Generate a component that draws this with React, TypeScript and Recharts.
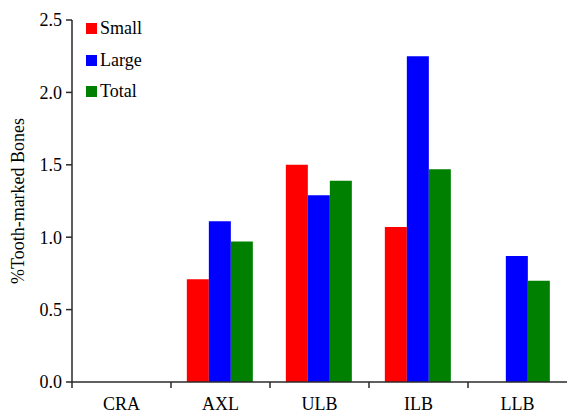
import { BarChart, Bar, XAxis, YAxis, Legend } from 'recharts'

const CATEGORIES = ['CRA', 'AXL', 'ULB', 'ILB', 'LLB']
const SMALL = [0, 0.71, 1.5, 1.07, 0]
const LARGE = [0, 1.11, 1.29, 2.25, 0.87]
const TOTAL = [0, 0.97, 1.39, 1.47, 0.7]
const Y_TICKS = [0, 0.5, 1, 1.5, 2, 2.5]

const RED = '#ff0000'
const BLUE = '#0000ff'
const GREEN = '#008000'
const AXIS = '#2a2a2a'
const FONT = 'Liberation Serif'
const FONT_SIZE = 18

const WIDTH = 567
const HEIGHT = 413
const Y_AXIS_W = 72
const X_AXIS_H = 31
const MARGIN = { top: 20, right: 0, left: 0, bottom: 0 }
const BAND = (WIDTH - Y_AXIS_W - MARGIN.right) / CATEGORIES.length

const data = CATEGORIES.map((name, i) => ({
  name,
  small: SMALL[i],
  large: LARGE[i],
  total: TOTAL[i],
}))

const SERIES = [
  { key: 'small', label: 'Small', color: RED },
  { key: 'large', label: 'Large', color: BLUE },
  { key: 'total', label: 'Total', color: GREEN },
]

// category label at the band centre, tick mark on the left edge of each band
function CategoryTick({ x, y, payload }: { x?: number; y?: number; payload?: { value: string } }) {
  const cx = x ?? 0
  const cy = y ?? 0
  const edge = cx - BAND / 2
  return (
    <g>
      <line x1={edge} y1={cy} x2={edge} y2={cy + 6} stroke={AXIS} strokeWidth={1.5} />
      <text x={cx} y={cy + 28} textAnchor="middle" fill="#000" fontSize={FONT_SIZE} fontFamily={FONT}>
        {payload?.value}
      </text>
    </g>
  )
}

function YLabel({ viewBox }: { viewBox?: { x: number; y: number; width: number; height: number } }) {
  const cy = viewBox ? viewBox.y + viewBox.height / 2 : 200
  return (
    <text
      x={24}
      y={cy}
      transform={`rotate(-90 24 ${cy})`}
      textAnchor="middle"
      fill="#000"
      fontSize={FONT_SIZE}
      fontFamily={FONT}
    >
      %Tooth-marked Bones
    </text>
  )
}

function LegendBox() {
  return (
    <div style={{ fontFamily: FONT, fontSize: FONT_SIZE, color: '#000' }}>
      {SERIES.map(s => (
        <div key={s.key} style={{ display: 'flex', alignItems: 'center', height: 31.5 }}>
          <span style={{ width: 11, height: 11, background: s.color, marginRight: 3 }} />
          <span>{s.label}</span>
        </div>
      ))}
    </div>
  )
}

export default function App() {
  return (
    <div style={{ position: 'absolute', left: 0, top: 0, background: '#fff', fontFamily: FONT }}>
      <BarChart
        width={WIDTH}
        height={HEIGHT}
        data={data}
        margin={MARGIN}
        barCategoryGap="16%"
        barGap={0}
      >
        <XAxis
          dataKey="name"
          height={X_AXIS_H}
          tickSize={0}
          tickMargin={0}
          tickLine={false}
          axisLine={{ stroke: AXIS, strokeWidth: 1.5 }}
          tick={<CategoryTick />}
          interval={0}
        />
        <YAxis
          width={Y_AXIS_W}
          domain={[0, 2.5]}
          ticks={Y_TICKS}
          tickFormatter={v => (v as number).toFixed(1)}
          tickSize={6}
          tickMargin={4}
          axisLine={{ stroke: AXIS, strokeWidth: 1.5 }}
          tickLine={{ stroke: AXIS, strokeWidth: 1.5 }}
          tick={{ fill: '#000', fontSize: FONT_SIZE, fontFamily: FONT }}
          label={<YLabel />}
        />
        <Legend
          layout="vertical"
          align="center"
          verticalAlign="middle"
          content={<LegendBox />}
          wrapperStyle={{ left: 86, top: 13, width: 'auto' }}
        />
        {SERIES.map(s => (
          <Bar key={s.key} dataKey={s.key} fill={s.color} isAnimationActive={false} />
        ))}
      </BarChart>
    </div>
  )
}
